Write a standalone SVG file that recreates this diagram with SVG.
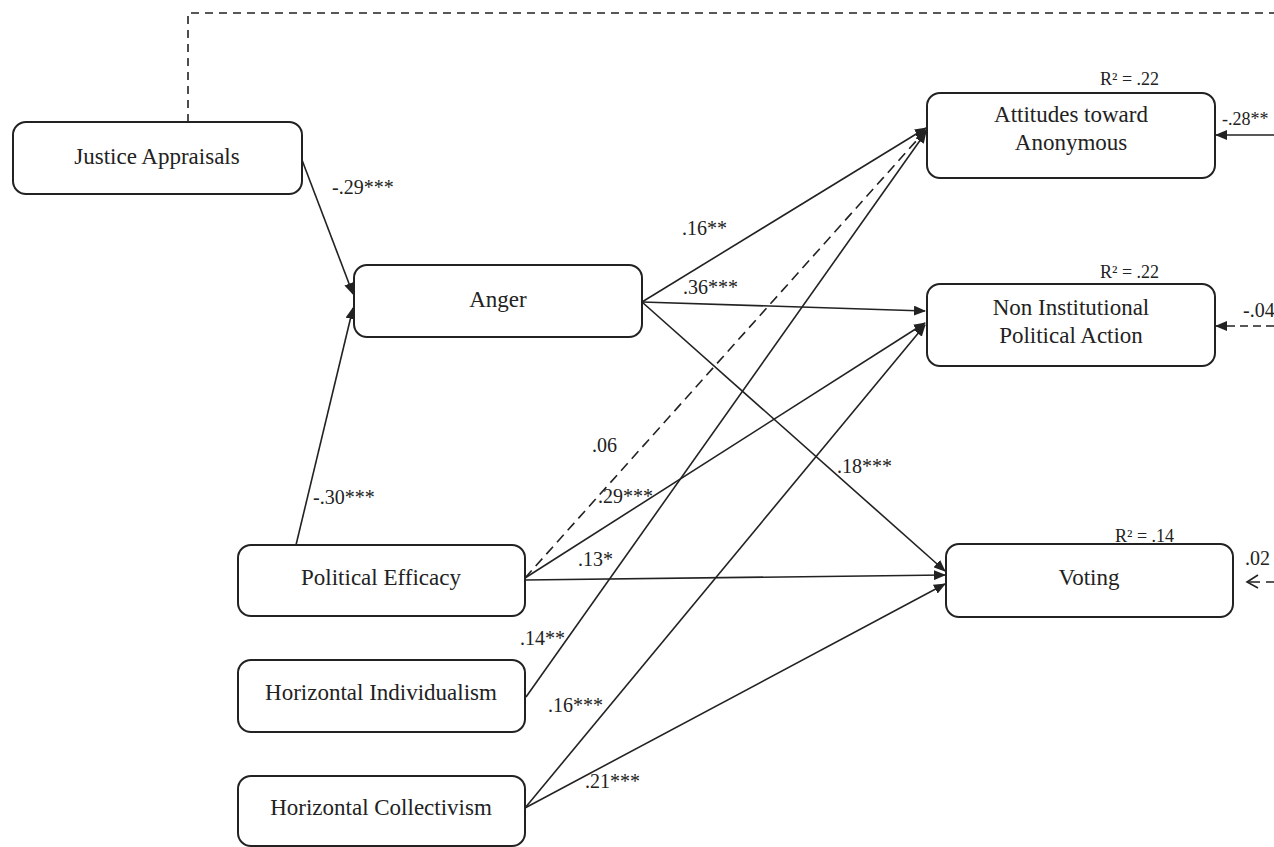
<svg xmlns="http://www.w3.org/2000/svg" width="1274" height="847" viewBox="0 0 1274 847">
<style>
.box{fill:#fff;stroke:#222;stroke-width:2}
.lbl{font-family:"Liberation Serif","Times New Roman",serif;font-size:23px;fill:#222;text-anchor:middle}
.num{font-family:"Liberation Serif","Times New Roman",serif;font-size:20px;fill:#222}
.r2{font-family:"Liberation Serif","Times New Roman",serif;font-size:18px;fill:#222}
.ln{fill:none;stroke:#222;stroke-width:1.6}
.dash{stroke-dasharray:10,6}
</style>
<defs>
<marker id="ah" markerWidth="12" markerHeight="10" refX="11" refY="5" orient="auto" markerUnits="userSpaceOnUse">
<path d="M0,0 L12,5 L0,10 Z" fill="#222"/>
</marker>
</defs>
<rect width="1274" height="847" fill="#fff"/>
<g id="connectors">
<path class="ln" d="M188,122 V13 H1274" stroke-dasharray="8,6"/>
<line class="ln" x1="302" y1="160" x2="353" y2="294" marker-end="url(#ah)"/>
<line class="ln" x1="296" y1="545" x2="353" y2="308" marker-end="url(#ah)"/>
<line class="ln" x1="642" y1="302" x2="926" y2="128" marker-end="url(#ah)"/>
<line class="ln" x1="642" y1="302" x2="925" y2="311" marker-end="url(#ah)"/>
<line class="ln" x1="642" y1="302" x2="945" y2="571" marker-end="url(#ah)"/>
<line class="ln dash" x1="525" y1="578" x2="926" y2="130" marker-end="url(#ah)"/>
<line class="ln" x1="525" y1="578" x2="925" y2="323" marker-end="url(#ah)"/>
<line class="ln" x1="525" y1="580" x2="945" y2="575" marker-end="url(#ah)"/>
<line class="ln" x1="526" y1="697" x2="926" y2="132" marker-end="url(#ah)"/>
<line class="ln" x1="525" y1="808" x2="925" y2="325" marker-end="url(#ah)"/>
<line class="ln" x1="525" y1="808" x2="945" y2="584" marker-end="url(#ah)"/>
<line class="ln" x1="1274" y1="135" x2="1216" y2="135" marker-end="url(#ah)"/>
<line class="ln" x1="1274" y1="326" x2="1216" y2="326" stroke-dasharray="8,5" marker-end="url(#ah)"/>
<path class="ln" d="M1258,575 L1247,582 L1258,588"/>
<path class="ln" d="M1249,582 H1260 M1266,582 H1274"/>
</g>
<g id="edge-labels">
<text class="num" x="332" y="194">-.29***</text>
<text class="num" x="313" y="504">-.30***</text>
<text class="num" x="682" y="235">.16**</text>
<text class="num" x="683" y="294">.36***</text>
<text class="num" x="592" y="452">.06</text>
<text class="num" x="598" y="503">.29***</text>
<text class="num" x="578" y="566">.13*</text>
<text class="num" x="837" y="473">.18***</text>
<text class="num" x="520" y="645">.14**</text>
<text class="num" x="548" y="712">.16***</text>
<text class="num" x="585" y="788">.21***</text>
<text class="num" x="1222" y="125" style="font-size:18px">-.28**</text>
<text class="num" x="1243" y="317">-.04</text>
<text class="num" x="1245" y="565">.02</text>
<text class="r2" x="1100" y="85">R² = .22</text>
<text class="r2" x="1100" y="278">R² = .22</text>
<text class="r2" x="1115" y="542">R² = .14</text>
</g>
<g id="justice">
<rect class="box" x="13" y="122" width="289" height="72" rx="13"/>
<text class="lbl" x="157" y="164">Justice Appraisals</text>
</g>
<g id="anger">
<rect class="box" x="354" y="265" width="288" height="72" rx="13"/>
<text class="lbl" x="498" y="307">Anger</text>
</g>
<g id="attitudes">
<rect class="box" x="927" y="93" width="288" height="85" rx="13"/>
<text class="lbl" x="1071" y="122">Attitudes toward</text>
<text class="lbl" x="1071" y="150">Anonymous</text>
</g>
<g id="noninst">
<rect class="box" x="927" y="284" width="288" height="82" rx="13"/>
<text class="lbl" x="1071" y="315">Non Institutional</text>
<text class="lbl" x="1071" y="343">Political Action</text>
</g>
<g id="voting">
<rect class="box" x="946" y="544" width="287" height="73" rx="13"/>
<text class="lbl" x="1089" y="585">Voting</text>
</g>
<g id="efficacy">
<rect class="box" x="238" y="545" width="287" height="71" rx="13"/>
<text class="lbl" x="381" y="585">Political Efficacy</text>
</g>
<g id="individualism">
<rect class="box" x="238" y="660" width="287" height="72" rx="13"/>
<text class="lbl" x="381" y="700">Horizontal Individualism</text>
</g>
<g id="collectivism">
<rect class="box" x="238" y="776" width="287" height="70" rx="13"/>
<text class="lbl" x="381" y="815">Horizontal Collectivism</text>
</g>
</svg>
